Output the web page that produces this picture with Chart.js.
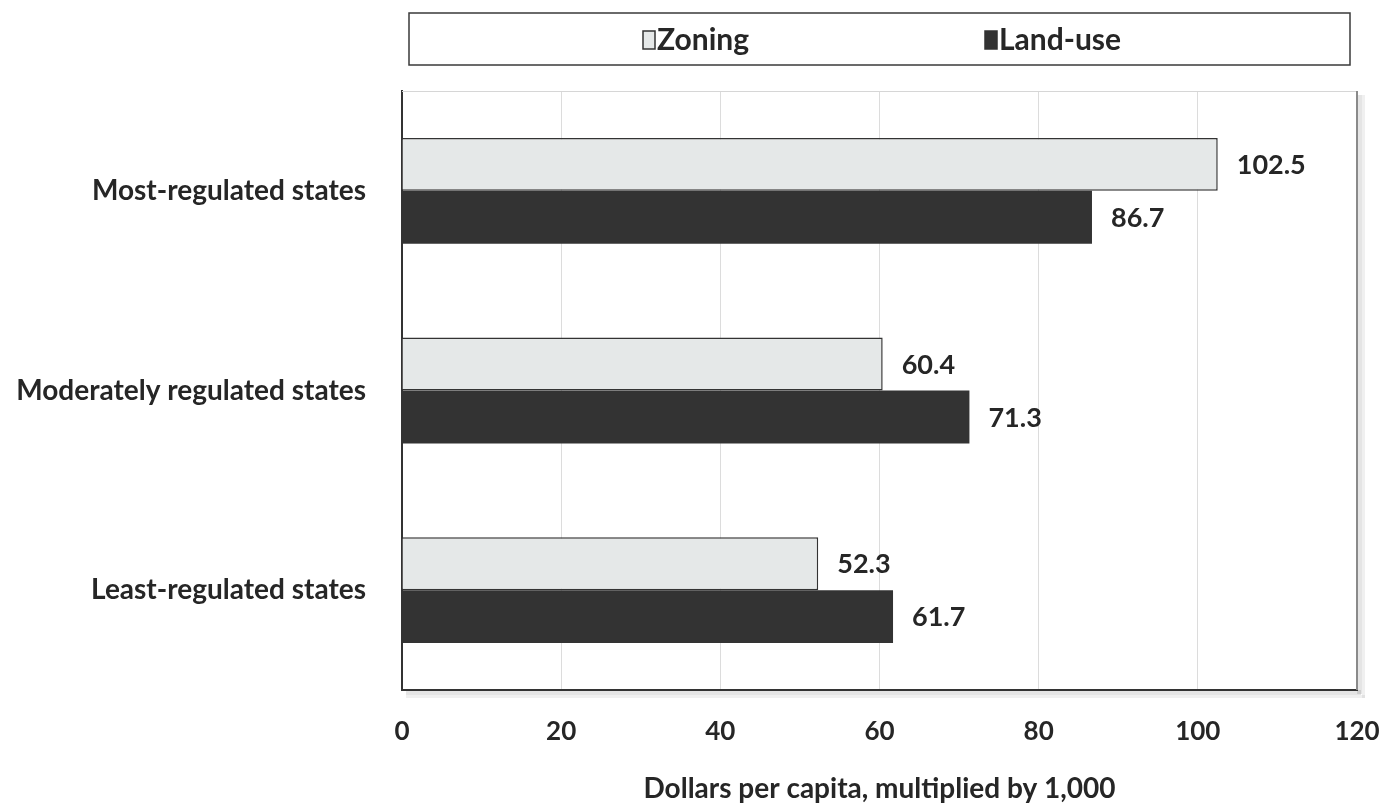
<!DOCTYPE html>
<html>
<head>
<meta charset="utf-8">
<script src="https://cdn.jsdelivr.net/npm/chart.js@4/dist/chart.umd.min.js"></script>
<style>
  html, body { margin: 0; padding: 0; background: #ffffff; }
  #wrap { width: 1396px; height: 806px; position: relative; }
</style>
</head>
<body>
<div id="wrap"><canvas id="c" width="1396" height="806"></canvas></div>
<script>
// Regulation groups and spending per capita (dollars x 1,000)
const categories = ['Most-regulated states', 'Moderately regulated states', 'Least-regulated states'];
const seriesNames = ['Zoning', 'Land-use'];
const zoning = [102.5, 60.4, 52.3];
const landUse = [86.7, 71.3, 61.7];
const xTicks = [0, 20, 40, 60, 80, 100, 120];
const xTitle = 'Dollars per capita, multiplied by 1,000';

const FONT = 'Lato, "Open Sans", sans-serif';
const TEXT = '#262626';

// Value labels to the right of each bar
const valueLabels = {
  id: 'valueLabels',
  afterDatasetsDraw(chart) {
    const ctx = chart.ctx;
    ctx.save();
    ctx.font = `bold 27px ${FONT}`;
    ctx.fillStyle = TEXT;
    ctx.textAlign = 'left';
    ctx.textBaseline = 'middle';
    chart.data.datasets.forEach((ds, i) => {
      chart.getDatasetMeta(i).data.forEach((bar, j) => {
        ctx.fillText(ds.data[j].toFixed(1), bar.x + 19, bar.y + 1);
      });
    });
    ctx.restore();
  }
};

// Plot frame with soft drop shadow, plus the boxed legend on top
const frameAndLegend = {
  id: 'frameAndLegend',
  beforeDraw(chart) {
    const { ctx, chartArea: a } = chart;
    ctx.save();
    // drop shadow along right and bottom edges
    ctx.fillStyle = 'rgba(0,0,0,0.10)';
    ctx.fillRect(a.left + 4, a.bottom, a.right - a.left, 5);
    ctx.fillRect(a.right, a.top + 4, 5, a.bottom - a.top);
    ctx.fillStyle = 'rgba(0,0,0,0.06)';
    ctx.fillRect(a.left + 4, a.bottom + 5, a.right - a.left + 4, 3);
    ctx.fillRect(a.right + 5, a.top + 4, 3, a.bottom - a.top + 4);
    ctx.fillStyle = '#ffffff';
    ctx.fillRect(a.left, a.top, a.right - a.left, a.bottom - a.top);
    ctx.restore();
  },
  afterDraw(chart) {
    const { ctx, chartArea: a } = chart;
    ctx.save();
    // top and right edges of plot frame
    ctx.strokeStyle = '#d6d6d6';
    ctx.lineWidth = 1;
    ctx.beginPath();
    ctx.moveTo(a.left, a.top + 0.5);
    ctx.lineTo(a.right, a.top + 0.5);
    ctx.stroke();
    ctx.strokeStyle = '#8a8a8a';
    ctx.lineWidth = 2;
    ctx.beginPath();
    ctx.moveTo(a.right, a.top);
    ctx.lineTo(a.right, a.bottom);
    ctx.stroke();

    // legend box
    const lx = 409, ly = 13, lw = 941, lh = 52;
    ctx.strokeStyle = '#3a3a3a';
    ctx.lineWidth = 1.5;
    ctx.strokeRect(lx, ly, lw, lh);
    ctx.font = `bold 30px ${FONT}`;
    ctx.textBaseline = 'middle';
    ctx.textAlign = 'left';
    const itemX = [643, 985];
    chart.data.datasets.forEach((ds, i) => {
      const bx = itemX[i], by = ly + 18;
      ctx.fillStyle = ds.backgroundColor;
      ctx.fillRect(bx, by, 12, 18);
      ctx.strokeStyle = '#333333';
      ctx.lineWidth = 1.5;
      ctx.strokeRect(bx, by, 12, 18);
      ctx.fillStyle = TEXT;
      ctx.fillText(ds.label, bx + 14, ly + lh / 2 + 1);
    });
    ctx.restore();
  }
};

new Chart(document.getElementById('c'), {
  type: 'bar',
  data: {
    labels: categories,
    datasets: [
      {
        label: seriesNames[0],
        data: zoning,
        backgroundColor: '#e5e8e8',
        borderColor: '#333333',
        borderWidth: 1.5,
        borderSkipped: 'left'
      },
      {
        label: seriesNames[1],
        data: landUse,
        backgroundColor: '#333333',
        borderColor: '#2a2a2a',
        borderWidth: 0
      }
    ]
  },
  options: {
    indexAxis: 'y',
    responsive: false,
    animation: false,
    devicePixelRatio: 1,
    layout: { padding: { top: 91, right: 39, bottom: 0, left: 0 } },
    datasets: { bar: { barPercentage: 1.0, categoryPercentage: 0.53 } },
    plugins: {
      legend: { display: false },
      tooltip: { enabled: false }
    },
    scales: {
      x: {
        min: 0,
        max: 120,
        afterBuildTicks(scale) { scale.ticks = xTicks.map(v => ({ value: v })); },
        afterFit(scale) { scale.height = 116; scale.paddingLeft = 0; scale.paddingRight = 0; },
        grid: { color: '#dcdcdc', lineWidth: 1, drawTicks: false },
        border: { color: '#333333', width: 2 },
        ticks: {
          padding: 26,
          color: TEXT,
          font: { family: FONT, size: 26, weight: 'bold' }
        },
        title: {
          display: true,
          text: xTitle,
          color: TEXT,
          font: { family: FONT, size: 28, weight: 'bold' },
          padding: { top: 0, bottom: 0 }
        }
      },
      y: {
        afterFit(scale) { scale.width = 402; scale.paddingTop = 0; scale.paddingBottom = 0; },
        grid: { display: false, drawTicks: false },
        border: { color: '#333333', width: 2 },
        ticks: {
          padding: 36,
          color: TEXT,
          font: { family: FONT, size: 28, weight: 'bold' }
        }
      }
    }
  },
  plugins: [valueLabels, frameAndLegend]
});
</script>
</body>
</html>
